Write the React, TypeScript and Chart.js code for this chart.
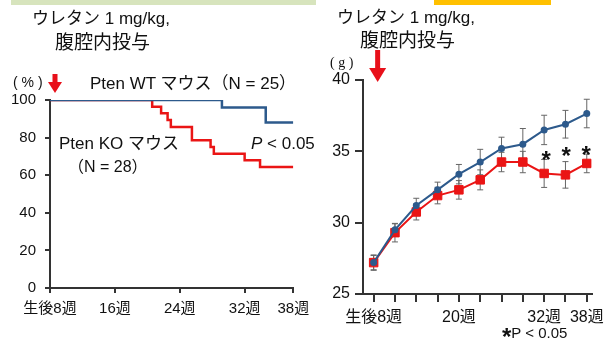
import React, { useEffect, useRef } from 'react';
import { Chart, registerables } from 'chart.js';
Chart.register(...registerables);

// ---- Survival (left) ----
const survivalWeeksWT = [8, 29.2, 34.6, 38];
const survivalWT = [100, 96, 88, 88];
const survivalWeeksKO = [8, 20.6, 21.7, 22.5, 22.9, 25.5, 27.8, 28.2, 32.0, 33.9, 38];
const survivalKO = [100, 96.4, 92.9, 89.3, 85.7, 78.6, 75.0, 71.4, 67.9, 64.3, 64.3];
const survivalTicks = [8, 16, 24, 32, 38];
const survivalTickLabels = ['生後8週', '16週', '24週', '32週', '38週'];

// ---- Body weight (right) ----
const weightWeeks = [8, 11, 14, 17, 20, 23, 26, 29, 32, 35, 38];
const weightWT = [27.2, 29.5, 31.2, 32.3, 33.4, 34.25, 35.2, 35.5, 36.5, 36.9, 37.65];
const weightWTErr = [0.5, 0.42, 0.51, 0.54, 0.68, 0.89, 0.79, 1.1, 1.03, 0.97, 1.0];
const weightKO = [27.2, 29.3, 30.75, 31.9, 32.3, 33.0, 34.25, 34.25, 33.45, 33.35, 34.15];
const weightKOErr = [0.54, 0.65, 0.56, 0.58, 0.65, 0.7, 0.68, 0.75, 0.98, 0.93, 0.65];
const weightTickWeeks = [8, 20, 32, 38];
const weightTickLabels = ['生後8週', '20週', '32週', '38週'];
const sigWeeks = [32.3, 35.1, 37.9];
const sigValues = [34.74, 34.97, 35.04];

const FONT = '"Liberation Sans", Arial, "Noto Sans CJK JP", sans-serif';
const BLUE = '#2d5a8c';
const RED = '#ea1515';
const AXIS = '#333333';

function arrowPlugin(offsetPx: number, top: number, bottom: number, head: number, headHalf: number) {
  return {
    id: 'arrow',
    afterDraw(chart: any) {
      const ctx = chart.ctx;
      const x = chart.scales.x.getPixelForValue(8) + offsetPx;
      ctx.save();
      ctx.fillStyle = '#e8101a';
      ctx.fillRect(x - 2.5, top, 5, bottom - top - head + 2);
      ctx.beginPath();
      ctx.moveTo(x - headHalf, bottom - head);
      ctx.lineTo(x + headHalf, bottom - head);
      ctx.lineTo(x, bottom);
      ctx.closePath();
      ctx.fill();
      ctx.restore();
    },
  };
}

const errorBarPlugin = {
  id: 'errbars',
  beforeDatasetsDraw(chart: any) {
    const ctx = chart.ctx;
    const xs = chart.scales.x;
    const ys = chart.scales.y;
    ctx.save();
    ctx.strokeStyle = '#666';
    ctx.lineWidth = 1;
    chart.data.datasets.forEach((ds: any) => {
      if (!ds.errors) return;
      ds.data.forEach((p: any, i: number) => {
        const x = xs.getPixelForValue(p.x);
        const y1 = ys.getPixelForValue(p.y + ds.errors[i]);
        const y2 = ys.getPixelForValue(p.y - ds.errors[i]);
        ctx.beginPath();
        ctx.moveTo(x, y1); ctx.lineTo(x, y2);
        ctx.moveTo(x - 3, y1); ctx.lineTo(x + 3, y1);
        ctx.moveTo(x - 3, y2); ctx.lineTo(x + 3, y2);
        ctx.stroke();
      });
    });
    ctx.restore();
  },
  afterDraw(chart: any) {
    const ctx = chart.ctx;
    ctx.save();
    ctx.fillStyle = '#111';
    ctx.font = 'bold 24px ' + FONT;
    ctx.textAlign = 'center';
    ctx.textBaseline = 'middle';
    sigWeeks.forEach((w, i) => {
      ctx.fillText('*', chart.scales.x.getPixelForValue(w), chart.scales.y.getPixelForValue(sigValues[i]) + 6);
    });
    ctx.restore();
  },
};

function SurvivalChart() {
  const ref = useRef<HTMLCanvasElement>(null);
  useEffect(() => {
    const chart = new Chart(ref.current!, {
      type: 'line',
      data: {
        datasets: [
          {
            data: survivalWeeksWT.map((w, i) => ({ x: w, y: survivalWT[i] })),
            borderColor: BLUE, borderWidth: 2.5, pointRadius: 0, stepped: 'before', fill: false,
          },
          {
            data: survivalWeeksKO.map((w, i) => ({ x: w, y: survivalKO[i] })),
            borderColor: RED, borderWidth: 2.5, pointRadius: 0, stepped: 'before', fill: false,
          },
        ],
      },
      options: {
        animation: false,
        responsive: false,
        layout: { padding: { top: 100, right: 26.7, left: 0, bottom: 0 } },
        plugins: { legend: { display: false }, tooltip: { enabled: false } },
        scales: {
          x: {
            type: 'linear', min: 8, max: 38,
            afterBuildTicks: (s: any) => { s.ticks = survivalTicks.map((v) => ({ value: v })); },
            afterFit: (s: any) => { s.height = 60; },
            ticks: {
              autoSkip: false, maxRotation: 0, padding: 7, color: '#111',
              font: { family: FONT, size: 15 },
              callback: (v: any) => survivalTickLabels[survivalTicks.indexOf(Number(v))] ?? '',
            },
            grid: { drawOnChartArea: false, drawTicks: true, tickLength: 5, color: AXIS, lineWidth: 2 },
            border: { display: true, color: AXIS, width: 2 },
          },
          y: {
            min: 0, max: 100,
            afterFit: (s: any) => { s.width = 50; },
            ticks: { stepSize: 20, padding: 9, color: '#111', font: { family: FONT, size: 15 } },
            grid: { drawOnChartArea: false, drawTicks: true, tickLength: 5, color: AXIS, lineWidth: 2 },
            border: { display: true, color: AXIS, width: 2 },
          },
        },
      },
      plugins: [arrowPlugin(5, 74, 93, 11, 7)],
    } as any);
    return () => chart.destroy();
  }, []);
  return <canvas ref={ref} width={320} height={348} style={{ position: 'absolute', left: 0, top: 0 }} />;
}

function WeightChart() {
  const ref = useRef<HTMLCanvasElement>(null);
  useEffect(() => {
    const chart = new Chart(ref.current!, {
      type: 'line',
      data: {
        datasets: [
          {
            data: weightWeeks.map((w, i) => ({ x: w, y: weightWT[i] })),
            errors: weightWTErr,
            borderColor: BLUE, backgroundColor: BLUE, borderWidth: 2,
            pointRadius: 2.5, pointStyle: 'circle', fill: false,
          },
          {
            data: weightWeeks.map((w, i) => ({ x: w, y: weightKO[i] })),
            errors: weightKOErr,
            borderColor: RED, backgroundColor: RED, borderWidth: 2,
            pointRadius: 6, pointBorderWidth: 1, pointStyle: 'rect', fill: false,
          },
        ],
      },
      options: {
        animation: false,
        responsive: false,
        layout: { padding: { top: 80, right: 15, left: 0, bottom: 0 } },
        plugins: { legend: { display: false }, tooltip: { enabled: false } },
        scales: {
          x: {
            type: 'linear', min: 6.5, max: 38.7,
            afterBuildTicks: (s: any) => { s.ticks = weightWeeks.map((v) => ({ value: v })); },
            afterFit: (s: any) => { s.height = 54; },
            ticks: {
              autoSkip: false, maxRotation: 0, padding: 6, color: '#111',
              font: { family: FONT, size: 16 },
              callback: (v: any) => weightTickLabels[weightTickWeeks.indexOf(Number(v))] ?? '',
            },
            grid: { drawOnChartArea: false, drawTicks: true, tickLength: 8, color: AXIS, lineWidth: 2 },
            border: { display: true, color: AXIS, width: 2 },
          },
          y: {
            min: 25, max: 40,
            afterFit: (s: any) => { s.width = 53; },
            ticks: { stepSize: 5, padding: 5, color: '#111', font: { family: FONT, size: 16 } },
            grid: { drawOnChartArea: false, drawTicks: true, tickLength: 8, color: AXIS, lineWidth: 2 },
            border: { display: true, color: AXIS, width: 2 },
          },
        },
      },
      plugins: [errorBarPlugin, arrowPlugin(4, 50, 82, 14, 8.5)],
    } as any);
    return () => chart.destroy();
  }, []);
  return <canvas ref={ref} width={300} height={348} style={{ position: 'absolute', left: 310, top: 0 }} />;
}

function Label(props: { x: number; y: number; size: number; children: any; style?: any }) {
  return (
    <div
      style={{
        position: 'absolute', left: props.x, top: props.y, transform: 'translateY(-50%)',
        fontFamily: FONT, fontSize: props.size, lineHeight: 1, whiteSpace: 'nowrap', color: '#111',
        ...(props.style || {}),
      }}
    >
      {props.children}
    </div>
  );
}

export default function App() {
  return (
    <div style={{ position: 'fixed', left: 0, top: 0, width: 610, height: 348, background: '#fff', overflow: 'hidden' }}>
      <div style={{ position: 'absolute', left: 11, top: 0, width: 305, height: 5, background: '#d7e4bd' }} />
      <div style={{ position: 'absolute', left: 434, top: 0, width: 117, height: 5, background: '#ffc000' }} />
      <SurvivalChart />
      <WeightChart />
      <Label x={32} y={18} size={17}>ウレタン 1 mg/kg,</Label>
      <Label x={55} y={42} size={19}>腹腔内投与</Label>
      <Label x={13} y={82} size={14}>( % )</Label>
      <Label x={90} y={83} size={17}>Pten WT マウス（N = 25）</Label>
      <Label x={59} y={143} size={17}>Pten KO マウス</Label>
      <Label x={68} y={167} size={16}>（N = 28）</Label>
      <Label x={251} y={143} size={17}><i>P</i> &lt; 0.05</Label>
      <Label x={337} y={17} size={17}>ウレタン 1 mg/kg,</Label>
      <Label x={360} y={40} size={19}>腹腔内投与</Label>
      <Label x={330} y={63} size={14} style={{ fontFamily: '"Liberation Serif", serif' }}>( g )</Label>
      <Label x={502} y={337} size={15}><span style={{ fontSize: 24, fontWeight: 'bold', verticalAlign: '-7px' }}>*</span>P &lt; 0.05</Label>
    </div>
  );
}
